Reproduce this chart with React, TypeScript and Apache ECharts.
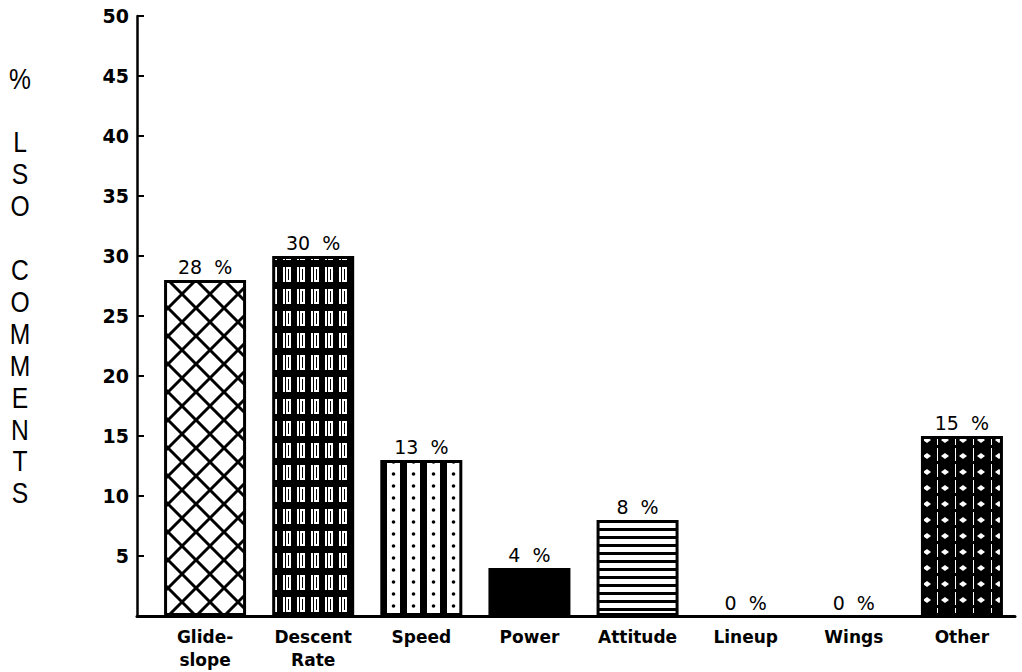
import React, { useEffect, useRef } from "react";
import * as echarts from "echarts";

const categories = ["Glide-\nslope", "Descent\nRate", "Speed", "Power", "Attitude", "Lineup", "Wings", "Other"];
const values = [28, 30, 13, 4, 8, 0, 0, 15];
const yTicks = [0, 5, 10, 15, 20, 25, 30, 35, 40, 45, 50];
const yTitle = ["%", "", "L", "S", "O", "", "C", "O", "M", "M", "E", "N", "T", "S"];

function makeCanvas(w: number, h: number, draw: (c: CanvasRenderingContext2D) => void) {
  const cv = document.createElement("canvas");
  cv.width = w;
  cv.height = h;
  const ctx = cv.getContext("2d") as CanvasRenderingContext2D;
  draw(ctx);
  return { image: cv, repeat: "repeat", imageWidth: w, imageHeight: h } as any;
}

function crossPattern() {
  return makeCanvas(28, 28, (c) => {
    c.fillStyle = "#fff";
    c.fillRect(0, 0, 28, 28);
    c.strokeStyle = "#000";
    c.lineWidth = 3;
    c.beginPath();
    c.moveTo(-4, -4);
    c.lineTo(32, 32);
    c.moveTo(32, -4);
    c.lineTo(-4, 32);
    c.stroke();
  });
}
function descentPattern() {
  return makeCanvas(14, 22, (c) => {
    c.fillStyle = "#000";
    c.fillRect(0, 0, 14, 22);
    c.fillStyle = "#fff";
    c.fillRect(3, 3, 8, 15);
    c.fillStyle = "#000";
    c.fillRect(5, 3, 1, 15);
    c.fillRect(8, 5, 1, 11);
  });
}
function speedPattern() {
  return makeCanvas(20, 12, (c) => {
    c.fillStyle = "#fff";
    c.fillRect(0, 0, 20, 12);
    c.fillStyle = "#000";
    c.fillRect(0, 0, 7, 12);
    c.beginPath();
    c.arc(13.5, 6, 1.8, 0, Math.PI * 2);
    c.fill();
  });
}
function solidPattern() {
  return "#000";
}
function stripePattern() {
  return makeCanvas(8, 8, (c) => {
    c.fillStyle = "#fff";
    c.fillRect(0, 0, 8, 8);
    c.fillStyle = "#000";
    c.fillRect(0, 0, 8, 3);
  });
}
function otherPattern() {
  return makeCanvas(18, 16, (c) => {
    c.fillStyle = "#000";
    c.fillRect(0, 0, 18, 16);
    c.fillStyle = "#fff";
    c.beginPath();
    c.moveTo(5, 8);
    c.lineTo(9, 5);
    c.lineTo(13, 8);
    c.lineTo(9, 11);
    c.closePath();
    c.fill();
    c.fillRect(1, 0, 1, 13);
  });
}
const patternMakers = [crossPattern, descentPattern, speedPattern, solidPattern, stripePattern, solidPattern, solidPattern, otherPattern];

export default function App() {
  const ref = useRef<HTMLDivElement>(null);
  useEffect(() => {
    document.body.style.margin = "0";
    const chart = echarts.init(ref.current as HTMLDivElement, null, { renderer: "svg" });
    const data = values.map((v, i) => ({
      value: v,
      itemStyle: { color: patternMakers[i](), borderWidth: v === 0 ? 0 : 3 },
    }));
    chart.setOption({
      animation: false,
      backgroundColor: "#fff",
      grid: [
        { left: 151, right: 6, top: 16, bottom: 56 },
        { left: 137, right: 7, top: 16, bottom: 56 },
      ],
      xAxis: [
        {
          type: "category",
          gridIndex: 0,
          data: categories,
          axisLine: { show: false },
          axisTick: { show: false },
          axisLabel: {
            color: "#000",
            fontFamily: "DejaVu Sans",
            fontWeight: "bold",
            fontSize: 17,
            lineHeight: 23,
            margin: 9,
            interval: 0,
          },
        },
        {
          type: "value",
          gridIndex: 1,
          min: 0,
          max: 1,
          axisLine: { show: true, lineStyle: { color: "#000", width: 3 } },
          axisTick: { show: false },
          axisLabel: { show: false },
          splitLine: { show: false },
        },
      ],
      yAxis: [
        {
          type: "value",
          gridIndex: 0,
          min: 0,
          max: 50,
          show: false,
          splitLine: { show: false },
        },
        {
          type: "value",
          gridIndex: 1,
          min: yTicks[0],
          max: yTicks[yTicks.length - 1],
          interval: 5,
          axisLine: { show: true, lineStyle: { color: "#000", width: 2.5 } },
          axisTick: { show: true, inside: true, length: 7, lineStyle: { color: "#000", width: 2 } },
          splitLine: { show: false },
          axisLabel: {
            color: "#000",
            fontFamily: "DejaVu Sans",
            fontWeight: "bold",
            fontSize: 19,
            margin: 8,
            formatter: (v: number) => (v === 0 ? "" : String(v)),
          },
        },
      ],
      graphic: [
        {
          type: "text",
          x: 20,
          y: 63,
          scaleX: 0.85,
          style: {
            text: yTitle.join("\n"),
            fontFamily: "Liberation Sans",
            fontSize: 29,
            lineHeight: 31.9,
            align: "center",
            verticalAlign: "top",
            fill: "#000",
          },
        },
      ],
      series: [
        {
          type: "bar",
          xAxisIndex: 0,
          yAxisIndex: 0,
          data,
          barWidth: 82,
          itemStyle: { borderColor: "#000", borderWidth: 3 },
          label: {
            show: true,
            position: "top",
            distance: 4,
            color: "#000",
            fontFamily: "DejaVu Sans",
            fontSize: 19,
            formatter: (p: any) => `${p.value}  %`,
          },
        },
      ],
    });
    return () => chart.dispose();
  }, []);
  return <div ref={ref} style={{ width: 1022, height: 672 }} />;
}
